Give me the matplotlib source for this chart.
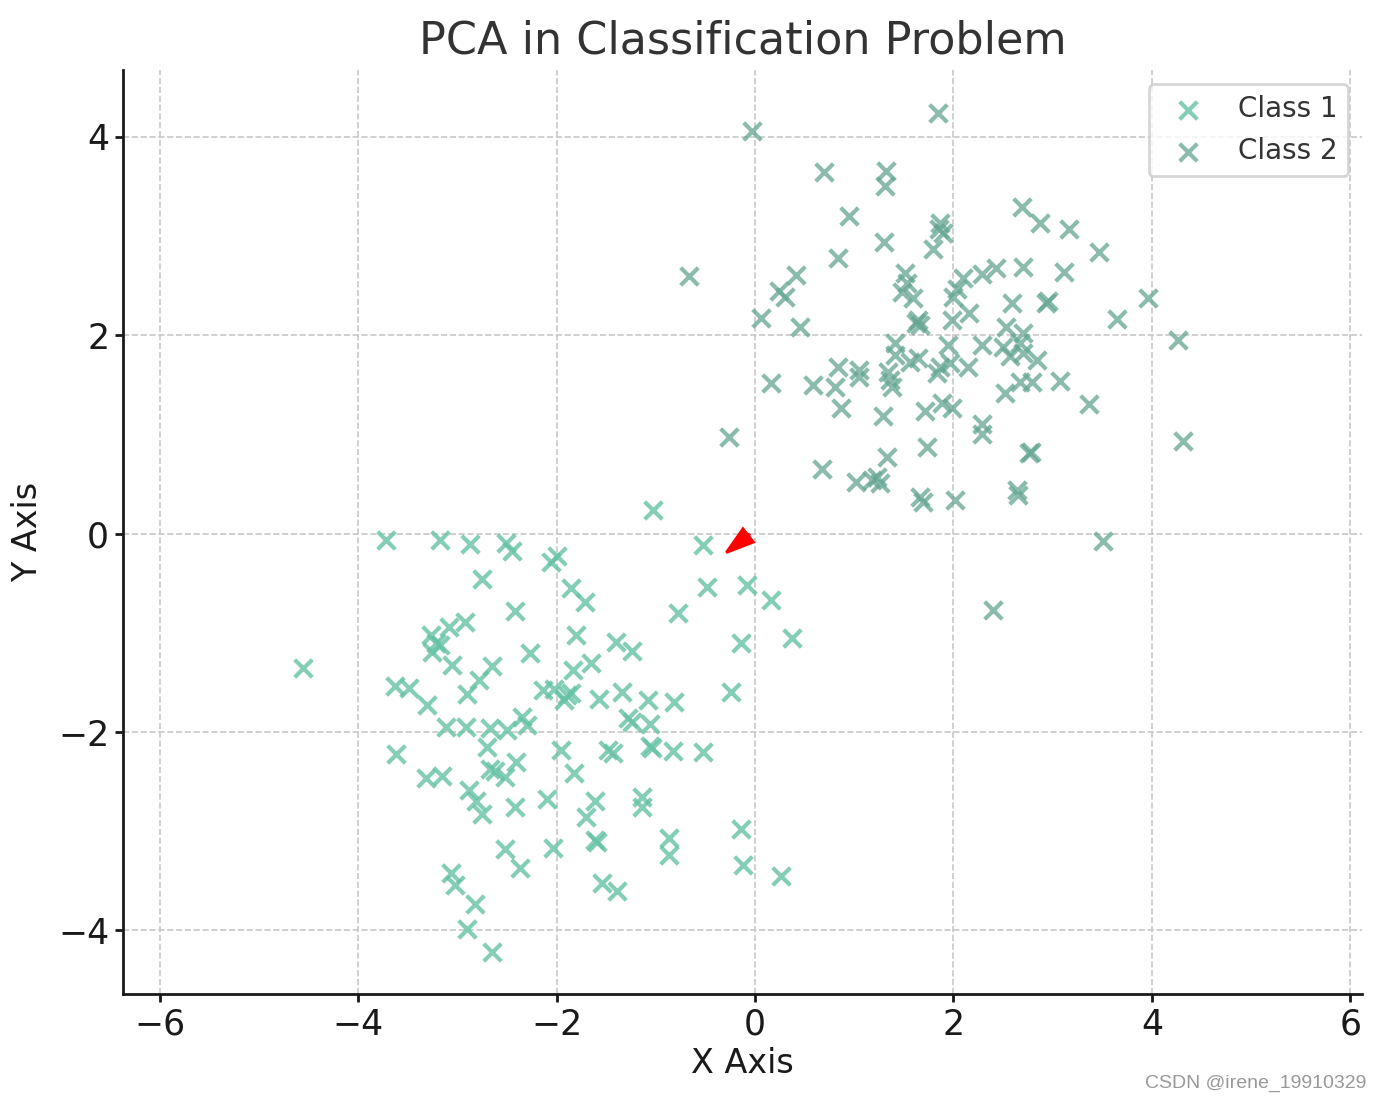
import numpy as np
import matplotlib.pyplot as plt

# class 1 points (lower-left cluster)
class1_x = [-4.56, -3.72, -3.18, -2.87, -2.51, -2.45, -2.75, -2.42, -2.92, -3.09,
            -3.27, -3.18, -3.26, -3.22, -3.05, -2.65, -2.27, -2.78, -3.63, -3.49,
            -2.90, -3.31, -3.12, -2.91, -2.67, -2.50, -2.35, -2.30, -2.70, -3.62,
            -3.32, -3.16, -2.67, -2.62, -2.52, -2.41, -2.88, -2.81, -2.75, -2.42,
            -2.52, -2.37, -3.06, -3.02, -2.82, -2.90, -2.65, -1.03, -0.52, -2.06,
            -2.00, -1.86, -1.71, -0.48, -0.08, 0.16, -0.78, -1.80, -1.40, -1.24,
            -0.14, 0.37, -1.65, -1.84, -2.14, -2.03, -1.93, -1.86, -1.57, -1.34,
            -1.08, -0.82, -0.24, -1.28, -1.24, -1.06, -1.96, -1.48, -1.43, -1.06,
            -1.04, -0.83, -0.52, -1.83, -2.10, -1.61, -1.70, -1.14, -1.14, -0.14,
            -0.87, -0.87, -2.04, -1.61, -1.59, -0.12, 0.26, -1.54, -1.39, -1.90]
class1_y = [-1.35, -0.06, -0.06, -0.10, -0.09, -0.17, -0.46, -0.78, -0.89, -0.94,
            -1.02, -1.12, -1.19, -1.10, -1.32, -1.33, -1.20, -1.47, -1.54, -1.56,
            -1.62, -1.73, -1.95, -1.95, -1.96, -1.98, -1.85, -1.93, -2.15, -2.22,
            -2.46, -2.44, -2.37, -2.39, -2.45, -2.30, -2.58, -2.69, -2.83, -2.76,
            -3.18, -3.37, -3.42, -3.54, -3.73, -3.98, -4.22, 0.24, -0.11, -0.29,
            -0.22, -0.55, -0.69, -0.54, -0.52, -0.67, -0.80, -1.02, -1.09, -1.18,
            -1.10, -1.05, -1.30, -1.37, -1.58, -1.57, -1.68, -1.61, -1.67, -1.60,
            -1.68, -1.70, -1.60, -1.86, -1.90, -1.92, -2.18, -2.18, -2.21, -2.14,
            -2.16, -2.19, -2.20, -2.41, -2.67, -2.69, -2.86, -2.65, -2.75, -2.98,
            -3.07, -3.24, -3.17, -3.09, -3.11, -3.34, -3.45, -3.52, -3.60, -1.63]

# class 2 points (upper-right cluster)
class2_x = [1.84, -0.03, 0.69, 1.32, 1.31, 0.95, 1.30, 1.86, 1.89, 1.85,
            1.79, 0.84, -0.67, 0.41, 0.24, 0.30, 1.51, 1.53, 1.48, 1.59,
            0.06, 0.45, 1.64, 1.66, 1.62, 2.10, 2.04, 1.99, 2.29, 2.43,
            2.70, 2.93, 2.95, 2.59, 2.16, 1.98, 2.53, 2.70, 2.69, 2.87,
            3.16, 3.47, 3.11, 3.96, 3.65, 1.41, 1.94, 2.29, 2.50, 2.67,
            1.41, 1.56, 1.64, 1.86, 1.96, 2.15, 2.57, 2.70, 2.84, 1.34,
            1.36, 1.38, 1.83, 2.52, 2.67, 2.79, 3.07, 3.37, 4.26, 4.31,
            0.84, 1.05, 1.05, 0.16, 0.58, 0.81, 0.87, 1.29, 1.71, 1.88,
            1.98, 2.29, 2.29, -0.26, 1.73, 1.33, 0.67, 1.02, 1.18, 1.23,
            1.26, 1.66, 1.69, 2.02, 2.76, 2.78, 2.64, 2.65, 3.51, 2.40]
class2_y = [4.24, 4.06, 3.65, 3.66, 3.51, 3.20, 2.94, 3.13, 3.03, 3.07,
            2.87, 2.78, 2.60, 2.61, 2.45, 2.39, 2.63, 2.53, 2.44, 2.38,
            2.17, 2.08, 2.15, 2.10, 2.12, 2.58, 2.47, 2.39, 2.62, 2.68,
            2.69, 2.33, 2.35, 2.33, 2.23, 2.15, 2.08, 2.02, 3.29, 3.13,
            3.07, 2.84, 2.64, 2.38, 2.16, 1.92, 1.90, 1.90, 1.88, 1.92,
            1.80, 1.73, 1.77, 1.68, 1.72, 1.68, 1.79, 1.82, 1.75, 1.63,
            1.55, 1.48, 1.62, 1.42, 1.53, 1.53, 1.54, 1.31, 1.95, 0.93,
            1.68, 1.65, 1.58, 1.52, 1.50, 1.48, 1.27, 1.19, 1.24, 1.32,
            1.27, 1.11, 1.01, 0.97, 0.87, 0.77, 0.65, 0.52, 0.54, 0.57,
            0.51, 0.37, 0.32, 0.34, 0.81, 0.82, 0.44, 0.39, -0.07, -0.77]

# principal direction arrow (start, offset)
arrow_start = (-0.06, -0.01)
arrow_delta = (-0.23, -0.18)

fig = plt.figure(figsize=(6.915, 5.505), dpi=200)
ax = fig.add_axes([0.089, 0.0972, 0.896, 0.8388])

ax.scatter(class1_x, class1_y, marker='x', s=40, color='#66c2a5', alpha=0.8,
           linewidths=1.5, label='Class 1')
ax.scatter(class2_x, class2_y, marker='x', s=40, color='#64a592', alpha=0.75,
           linewidths=1.5, label='Class 2')
ax.arrow(arrow_start[0], arrow_start[1], arrow_delta[0], arrow_delta[1],
         head_width=0.17, head_length=0.28, length_includes_head=True,
         color='red', zorder=3)

ax.set_xlim(-6.37, 6.12)
ax.set_ylim(-4.64, 4.67)
ax.set_xticks(np.arange(-6, 7, 2))
ax.set_yticks(np.arange(-4, 5, 2))

ax.set_title('PCA in Classification Problem', fontsize=16, color='#333333', pad=6)
ax.set_xlabel('X Axis', fontsize=12, color='#1a1a1a', labelpad=2)
ax.set_ylabel('Y Axis', fontsize=12, color='#1a1a1a', labelpad=5)

ax.grid(True, linestyle='--', color='#c8c8c8', linewidth=0.6)
ax.set_axisbelow(True)
for s in ['top', 'right']:
    ax.spines[s].set_visible(False)
for s in ['left', 'bottom']:
    ax.spines[s].set_linewidth(1.0)
    ax.spines[s].set_color('#1a1a1a')
ax.tick_params(direction='out', length=3, width=1.0, labelsize=12.5,
               colors='#1a1a1a', pad=2)

ax.legend(loc='upper right', fontsize=10, labelcolor='#333333')

fig.text(0.988, 0.008, 'CSDN @irene_19910329', ha='right', va='bottom',
         fontsize=7, color='#999999', family='Liberation Sans')

fig.savefig('out.png', dpi=200)
